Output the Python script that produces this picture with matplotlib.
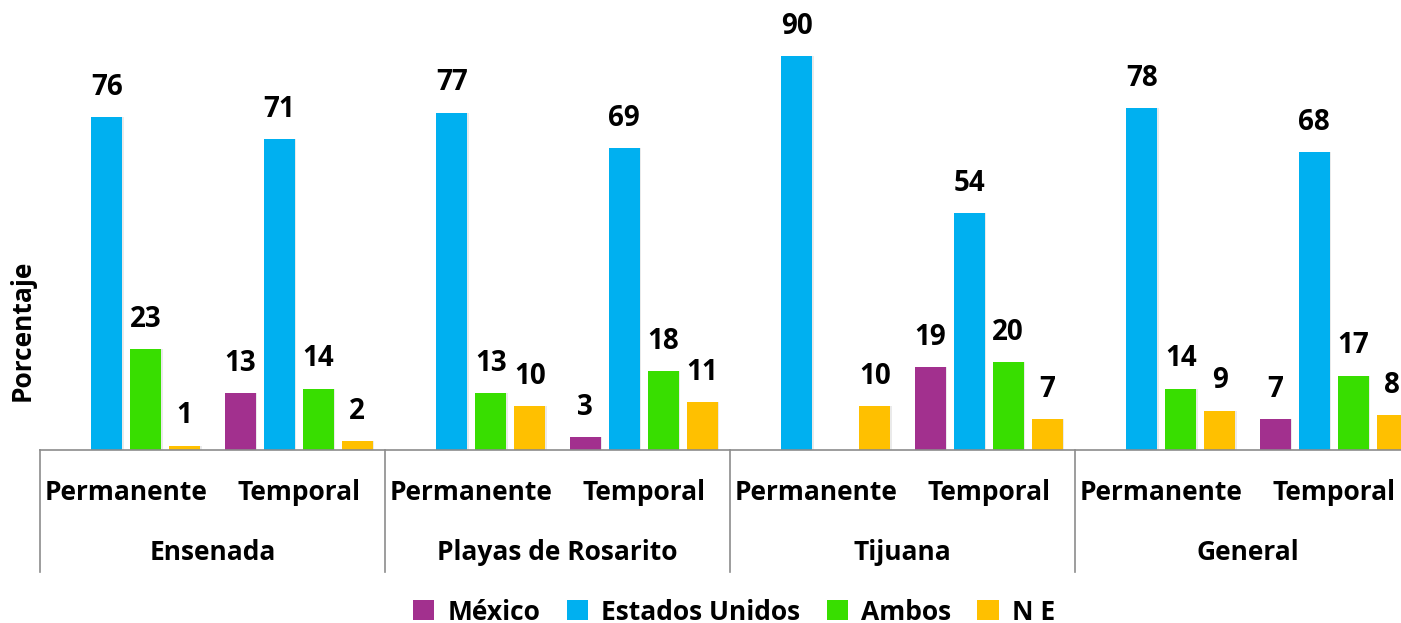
import matplotlib
matplotlib.use("Agg")
import matplotlib.pyplot as plt
from matplotlib.lines import Line2D
from matplotlib.patches import Patch
import numpy as np

plt.rcParams['font.family'] = ['Open Sans', 'DejaVu Sans']

regions = ["Ensenada", "Playas de Rosarito", "Tijuana", "General"]
types = ["Permanente", "Temporal"]
series = ["México", "Estados Unidos", "Ambos", "N E"]
mexico = [0, 13, 0, 3, 0, 19, 0, 7]
eeuu = [76, 71, 77, 69, 90, 54, 78, 68]
ambos = [23, 14, 13, 18, 0, 20, 14, 17]
ne = [1, 2, 10, 11, 10, 7, 9, 8]
colors = ["#A2308E", "#00B0F0", "#38DE00", "#FFC000"]

W, H = 1401, 623
fig = plt.figure(figsize=(W / 100, H / 100), dpi=100)
ax = fig.add_axes([40 / W, 173 / H, 1380 / W, 438 / H])

FS = 19
VFS = 20
n = len(mexico)
x = np.arange(n)
slot = 39 / 172.5
bw = 31 / 172.5
for i, (vals, c) in enumerate(zip([mexico, eeuu, ambos, ne], colors)):
    pos = x + (i - 1.5) * slot
    for p, v in zip(pos, vals):
        if v <= 0:
            continue
        ax.bar(p + 0.008, v, width=bw, color="#dddddd", alpha=0.6, zorder=1, linewidth=0)
        ax.bar(p, v, width=bw, color=c, zorder=2, linewidth=0)
        ax.annotate(str(v), (p, v), xytext=(0, 11), textcoords="offset points",
                    ha="center", va="bottom", fontsize=VFS, fontweight="bold", color="black")

ax.set_xlim(-0.5, n - 0.5)
ax.set_ylim(0, 100)
for s in ["top", "right", "left"]:
    ax.spines[s].set_visible(False)
ax.spines["bottom"].set_color("#8c8c8c")
ax.spines["bottom"].set_linewidth(1.2)
ax.set_xticks([])
ax.set_yticks([])
ax.set_ylabel("Porcentaje", fontsize=FS, fontweight="bold")
ax.yaxis.set_label_coords(-4 / 1380, 0.274)

tr = ax.get_xaxis_transform()
for j in range(n):
    ax.text(x[j], -0.096, types[j % 2], transform=tr, ha="center", va="center",
            fontsize=FS, fontweight="bold")
for r, name in enumerate(regions):
    ax.text(2 * r + 0.5, -0.233, name, transform=tr, ha="center", va="center",
            fontsize=FS, fontweight="bold")
    ax.add_line(Line2D([2 * r - 0.5, 2 * r - 0.5], [0, -0.279], transform=tr,
                       color="#8c8c8c", linewidth=1.2, clip_on=False))

handles = [Patch(facecolor=c, edgecolor="none") for c in colors]
fig.legend(handles, series, loc="center", bbox_to_anchor=(734 / W, 1 - 612 / H),
           ncol=4, frameon=False, prop={"size": FS, "weight": "bold"},
           handlelength=0.8, handleheight=0.8, handletextpad=0.5, columnspacing=1.0)

fig.savefig("out.png", dpi=100)
